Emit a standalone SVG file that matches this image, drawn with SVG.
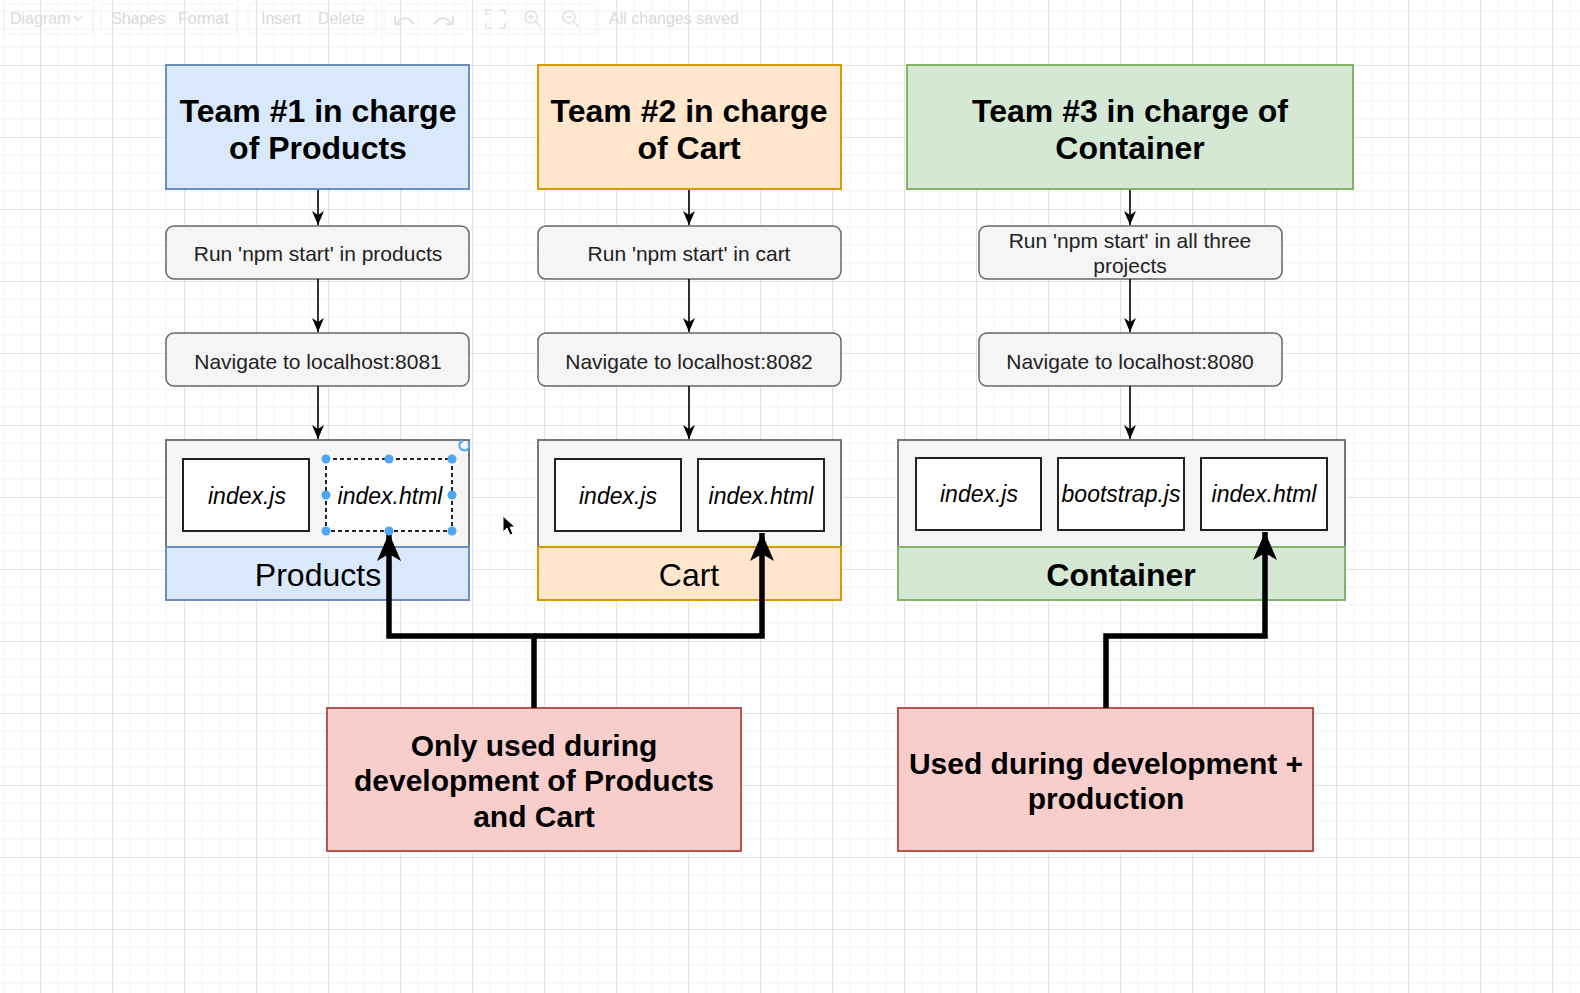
<svg xmlns="http://www.w3.org/2000/svg" width="1580" height="993" viewBox="0 0 1580 993">
<defs>
<pattern id="grid" patternUnits="userSpaceOnUse" x="40" y="65" width="72" height="72">
<path d="M18,0V72M36,0V72M54,0V72M0,18H72M0,36H72M0,54H72" stroke="#f2f2f2" stroke-width="1" fill="none"/>
<path d="M0.5,0V72M0,0.5H72" stroke="#e2e2e2" stroke-width="1" fill="none"/>
</pattern>
<marker id="thin" markerUnits="userSpaceOnUse" viewBox="0 0 14 12" markerWidth="14" markerHeight="12" refX="14" refY="6" orient="auto">
<path d="M0,0 L14,6 L0,12 L4,6 Z" fill="#000"/>
</marker>
<marker id="thick" markerUnits="userSpaceOnUse" viewBox="0 0 28 24" markerWidth="28" markerHeight="24" refX="28" refY="12" orient="auto">
<path d="M0,0 L28,12 L0,24 L7,12 Z" fill="#000"/>
</marker>
</defs>
<style>
.t{font-family:"Liberation Sans",Arial,sans-serif;text-anchor:middle;fill:#000}
.h{font-size:32px;font-weight:bold}
.r{font-size:30px;font-weight:bold}
.s{font-size:21px;fill:#222}
.f{font-size:23px;font-style:italic}
.l{font-size:32px}
.tb{font-family:"Liberation Sans",Arial,sans-serif;font-size:16px;fill:#dadada}
.blue{fill:#dae8fc;stroke:#6c8ebf;stroke-width:2}
.orange{fill:#ffe6cc;stroke:#d79b00;stroke-width:2}
.green{fill:#d5e8d4;stroke:#82b366;stroke-width:2}
.red{fill:#f8cecc;stroke:#b85450;stroke-width:2}
.step{fill:#f5f5f5;stroke:#666;stroke-width:1.5}
.grey{fill:#f5f5f5;stroke:#777;stroke-width:2}
.file{fill:#fff;stroke:#222;stroke-width:2}
.thin{fill:none;stroke:#000;stroke-width:1.6;marker-end:url(#thin)}
.bold{fill:none;stroke:#000;stroke-width:5.5;stroke-linejoin:miter;stroke-linecap:butt;marker-end:url(#thick)}
.hd{fill:#4ea6ee}
</style>
<rect x="0" y="0" width="1580" height="993" fill="#fff"/>
<rect x="0" y="0" width="1580" height="993" fill="url(#grid)"/>

<g id="toolbar">
<rect x="4" y="4" width="89" height="30" rx="4" fill="none" stroke="#f2f2f2"/>
<rect x="101" y="4" width="136" height="30" rx="4" fill="none" stroke="#f2f2f2"/>
<rect x="248" y="4" width="128" height="30" rx="4" fill="none" stroke="#f2f2f2"/>
<rect x="385" y="4" width="82" height="30" rx="4" fill="none" stroke="#f2f2f2"/>
<rect x="476" y="4" width="120" height="30" rx="4" fill="none" stroke="#f2f2f2"/>
<text class="tb" x="10" y="24">Diagram</text>
<path d="M74,16 L78,20 L82,16" fill="none" stroke="#e0e0e0" stroke-width="1.2"/>
<text class="tb" x="111" y="24">Shapes</text>
<text class="tb" x="178" y="24">Format</text>
<text class="tb" x="261" y="24">Insert</text>
<text class="tb" x="318" y="24">Delete</text>
<path d="M397,24 Q404,12 414,24 M395,16 V24 H402" fill="none" stroke="#e2e2e2" stroke-width="2"/>
<path d="M451,24 Q444,12 434,24 M453,16 V24 H446" fill="none" stroke="#e2e2e2" stroke-width="2"/>
<path d="M486,15 V10 H491 M500,10 H505 V15 M505,23 V28 H500 M491,28 H486 V23" fill="none" stroke="#e2e2e2" stroke-width="1.6"/>
<circle cx="531" cy="17" r="6" fill="none" stroke="#e2e2e2" stroke-width="1.6"/>
<path d="M535,21 L541,27 M528,17 H534 M531,14 V20" fill="none" stroke="#e2e2e2" stroke-width="1.6"/>
<circle cx="569" cy="17" r="6" fill="none" stroke="#e2e2e2" stroke-width="1.6"/>
<path d="M573,21 L579,27 M566,17 H572" fill="none" stroke="#e2e2e2" stroke-width="1.6"/>
<text class="tb" x="609" y="24">All changes saved</text>
</g>

<g id="team1">
<rect class="blue" x="166" y="65" width="303" height="124"/>
<text class="t h" x="318" y="122">Team #1 in charge</text>
<text class="t h" x="318" y="159">of Products</text>
</g>
<g id="team2">
<rect class="orange" x="538" y="65" width="303" height="124"/>
<text class="t h" x="689" y="122">Team #2 in charge</text>
<text class="t h" x="689" y="159">of Cart</text>
</g>
<g id="team3">
<rect class="green" x="907" y="65" width="446" height="124"/>
<text class="t h" x="1130" y="122">Team #3 in charge of</text>
<text class="t h" x="1130" y="159">Container</text>
</g>

<g id="run1">
<rect class="step" x="166" y="226" width="303" height="53" rx="8"/>
<text class="t s" x="318" y="261">Run 'npm start' in products</text>
</g>
<g id="run2">
<rect class="step" x="538" y="226" width="303" height="53" rx="8"/>
<text class="t s" x="689" y="261">Run 'npm start' in cart</text>
</g>
<g id="run3">
<rect class="step" x="979" y="226" width="303" height="53" rx="8"/>
<text class="t s" x="1130" y="248">Run 'npm start' in all three</text>
<text class="t s" x="1130" y="273">projects</text>
</g>

<g id="nav1">
<rect class="step" x="166" y="333" width="303" height="53" rx="8"/>
<text class="t s" x="318" y="369">Navigate to localhost:8081</text>
</g>
<g id="nav2">
<rect class="step" x="538" y="333" width="303" height="53" rx="8"/>
<text class="t s" x="689" y="369">Navigate to localhost:8082</text>
</g>
<g id="nav3">
<rect class="step" x="979" y="333" width="303" height="53" rx="8"/>
<text class="t s" x="1130" y="369">Navigate to localhost:8080</text>
</g>

<g id="products">
<rect class="grey" x="166" y="440" width="303" height="107"/>
<rect class="blue" x="166" y="547" width="303" height="53"/>
<text class="t l" x="318" y="586">Products</text>
</g>
<g id="products-indexjs">
<rect class="file" x="183" y="459" width="126" height="72"/>
<text class="t f" x="247" y="504">index.js</text>
</g>
<g id="products-indexhtml">
<rect class="file" x="326" y="459" width="126" height="72" stroke-dasharray="4 3"/>
<text class="t f" x="390" y="504">index.html</text>
</g>

<g id="cart">
<rect class="grey" x="538" y="440" width="303" height="107"/>
<rect class="orange" x="538" y="547" width="303" height="53"/>
<text class="t l" x="689" y="586">Cart</text>
</g>
<g id="cart-indexjs">
<rect class="file" x="555" y="459" width="126" height="72"/>
<text class="t f" x="618" y="504">index.js</text>
</g>
<g id="cart-indexhtml">
<rect class="file" x="698" y="459" width="126" height="72"/>
<text class="t f" x="761" y="504">index.html</text>
</g>

<g id="container">
<rect class="grey" x="898" y="440" width="447" height="107"/>
<rect class="green" x="898" y="547" width="447" height="53"/>
<text class="t l" x="1121" y="586" font-weight="bold">Container</text>
</g>
<g id="container-indexjs">
<rect class="file" x="916" y="458" width="125" height="72"/>
<text class="t f" x="979" y="502">index.js</text>
</g>
<g id="container-bootstrap">
<rect class="file" x="1058" y="458" width="126" height="72"/>
<text class="t f" x="1121" y="502">bootstrap.js</text>
</g>
<g id="container-indexhtml">
<rect class="file" x="1201" y="458" width="126" height="72"/>
<text class="t f" x="1264" y="502">index.html</text>
</g>

<g id="note-dev">
<rect class="red" x="327" y="708" width="414" height="143"/>
<text class="t r" x="534" y="756">Only used during</text>
<text class="t r" x="534" y="791">development of Products</text>
<text class="t r" x="534" y="827">and Cart</text>
</g>
<g id="note-prod">
<rect class="red" x="898" y="708" width="415" height="143"/>
<text class="t r" x="1106" y="774">Used during development +</text>
<text class="t r" x="1106" y="809">production</text>
</g>

<g id="connectors">
<path class="thin" d="M318,190 V225"/>
<path class="thin" d="M318,279 V332"/>
<path class="thin" d="M318,386 V439"/>
<path class="thin" d="M689,190 V225"/>
<path class="thin" d="M689,279 V332"/>
<path class="thin" d="M689,386 V439"/>
<path class="thin" d="M1130,190 V225"/>
<path class="thin" d="M1130,279 V332"/>
<path class="thin" d="M1130,386 V439"/>
<path class="bold" d="M534,708 V636 H389 V533"/>
<path class="bold" d="M534,636 H762 V533"/>
<path class="bold" d="M1106,708 V636 H1265 V532"/>
</g>

<g id="selection">
<circle class="hd" cx="326" cy="459" r="4.5"/>
<circle class="hd" cx="389" cy="459" r="4.5"/>
<circle class="hd" cx="452" cy="459" r="4.5"/>
<circle class="hd" cx="326" cy="495" r="4.5"/>
<circle class="hd" cx="452" cy="495" r="4.5"/>
<circle class="hd" cx="326" cy="531" r="4.5"/>
<circle class="hd" cx="389" cy="531" r="4.5"/>
<circle class="hd" cx="452" cy="531" r="4.5"/>
<path d="M468,442 A5,5 0 1 1 462,441" fill="none" stroke="#4ea6ee" stroke-width="2"/>
<path d="M460,438 L464,441 L460,444 Z" fill="#4ea6ee"/>
</g>

<g id="cursor">
<path d="M503,516 V532 L507,528 L510,535 L513,534 L510,527 L515,527 Z" fill="#000" stroke="#fff" stroke-width="1"/>
</g>
</svg>
